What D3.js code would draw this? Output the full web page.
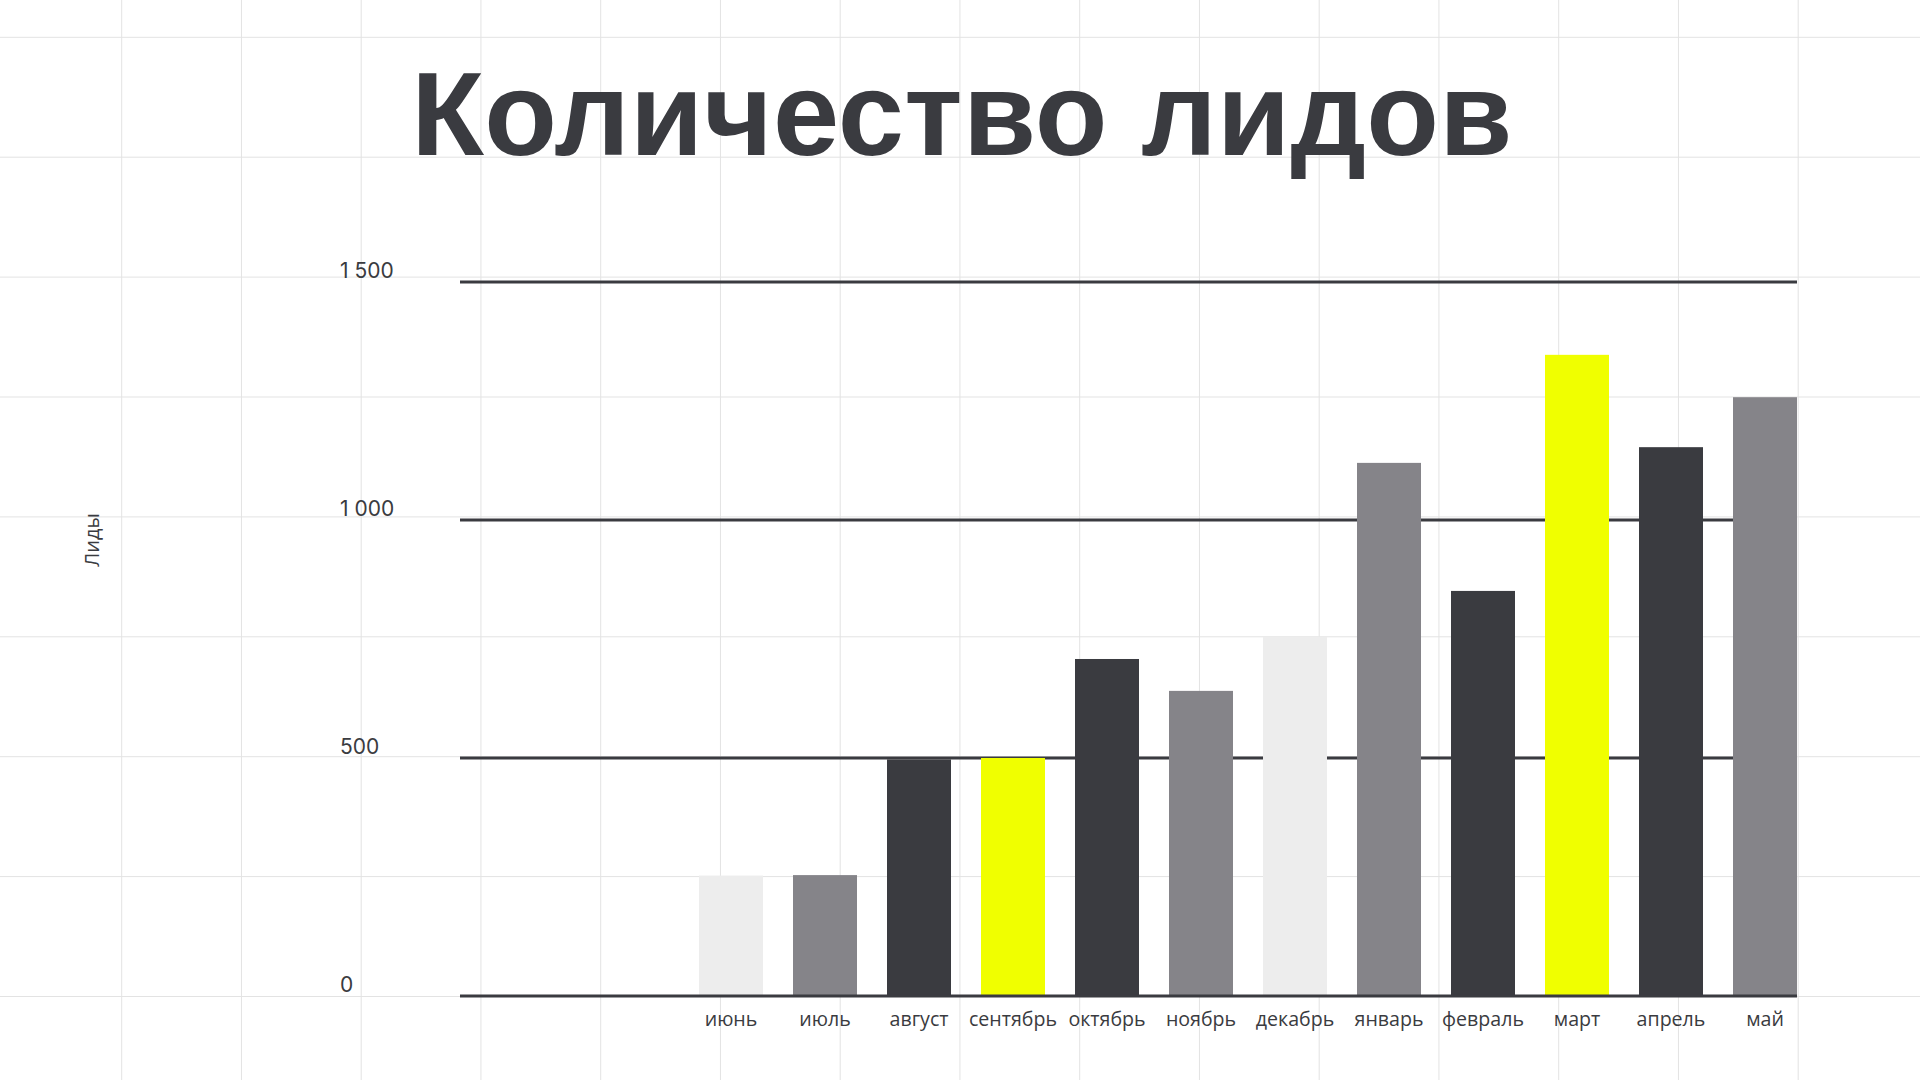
<!DOCTYPE html>
<html>
<head>
<meta charset="utf-8">
<script src="https://cdn.jsdelivr.net/npm/d3@7"></script>
<style>
  html, body { margin: 0; padding: 0; background: #ffffff; }
  svg { display: block; }
</style>
</head>
<body>
<svg id="chart" width="1920" height="1080"></svg>
<script>
// ---- data ----
const months = ["июнь", "июль", "август", "сентябрь", "октябрь", "ноябрь", "декабрь", "январь", "февраль", "март", "апрель", "май"];
const leads = [253, 254, 497, 500, 708, 641, 755, 1120, 851, 1347, 1153, 1258];
const barColors = ["#ededed", "#858489", "#3a3b40", "#f0ff00", "#3a3b40", "#858489", "#ededed", "#858489", "#3a3b40", "#f0ff00", "#3a3b40", "#858489"];
const yTicks = [0, 500, 1000, 1500];
const yTickLabels = ["0", "500", "1 000", "1 500"];
const titleText = "Количество лидов";
const yAxisTitle = "Лиды";

// ---- layout ----
const W = 1920, H = 1080;
const plotLeft = 460, plotRight = 1797;
const dark = "#3a3b40";

const svg = d3.select("#chart");

// background slide grid
const gx0 = 121.7, gstepX = 119.75, gy0 = 37.3, gstepY = 119.9;
const bg = svg.append("g").attr("class", "bg-grid");
bg.selectAll("line.v").data(d3.range(15)).join("line")
  .attr("class", "v")
  .attr("x1", i => gx0 + i * gstepX).attr("x2", i => gx0 + i * gstepX)
  .attr("y1", 0).attr("y2", H)
  .attr("stroke", "#e3e3e3").attr("stroke-width", 1);
bg.selectAll("line.h").data(d3.range(9)).join("line")
  .attr("class", "h")
  .attr("x1", 0).attr("x2", W)
  .attr("y1", i => gy0 + i * gstepY).attr("y2", i => gy0 + i * gstepY)
  .attr("stroke", "#e3e3e3").attr("stroke-width", 1);

// scales
const x = d3.scaleBand().domain(months).range([699, 1797]).paddingInner(30 / 94).paddingOuter(0);
const y = d3.scaleLinear().domain([0, 1500]).range([996, 282]);

// horizontal value lines (behind bars)
svg.append("g").selectAll("line").data(yTicks.filter(v => v !== 0)).join("line")
  .attr("x1", plotLeft).attr("x2", plotRight)
  .attr("y1", d => y(d)).attr("y2", d => y(d))
  .attr("stroke", dark).attr("stroke-width", 3);

// bars
svg.append("g").selectAll("rect").data(months).join("rect")
  .attr("x", d => x(d))
  .attr("width", x.bandwidth())
  .attr("y", (d, i) => y(leads[i]))
  .attr("height", (d, i) => y(0) - y(leads[i]))
  .attr("fill", (d, i) => barColors[i]);

// baseline on top
svg.append("line")
  .attr("x1", plotLeft).attr("x2", plotRight)
  .attr("y1", y(0)).attr("y2", y(0))
  .attr("stroke", dark).attr("stroke-width", 3);

// y tick labels
svg.append("g").selectAll("text").data(yTicks).join("text")
  .attr("x", 340)
  .attr("y", d => y(d) - 4)
  .attr("font-family", "Inter, 'Noto Sans', sans-serif")
  .attr("font-size", 21)
  .attr("fill", dark)
  .text((d, i) => yTickLabels[i]);

// x axis labels
const xAxis = d3.axisBottom(x).tickSize(0).tickPadding(0);
const xg = svg.append("g").attr("transform", `translate(0, ${y(0)})`).call(xAxis);
xg.select(".domain").remove();
xg.selectAll("text")
  .attr("dy", null)
  .attr("y", 30)
  .attr("font-family", "'Open Sans', 'Noto Sans', sans-serif")
  .attr("font-size", 19.6)
  .attr("fill", dark);

// y axis title
svg.append("text")
  .attr("transform", "translate(99, 540) rotate(-90)")
  .attr("text-anchor", "middle")
  .attr("font-family", "'Open Sans', 'Noto Sans', sans-serif")
  .attr("font-size", 20)
  .attr("fill", dark)
  .text(yAxisTitle);

// title
svg.append("text")
  .attr("x", 962)
  .attr("y", 155)
  .attr("text-anchor", "middle")
  .attr("font-family", "'Liberation Sans', Arial, sans-serif")
  .attr("font-weight", "bold")
  .attr("font-size", 119)
  .attr("letter-spacing", 0.3)
  .attr("fill", dark)
  .text(titleText);
</script>
</body>
</html>
